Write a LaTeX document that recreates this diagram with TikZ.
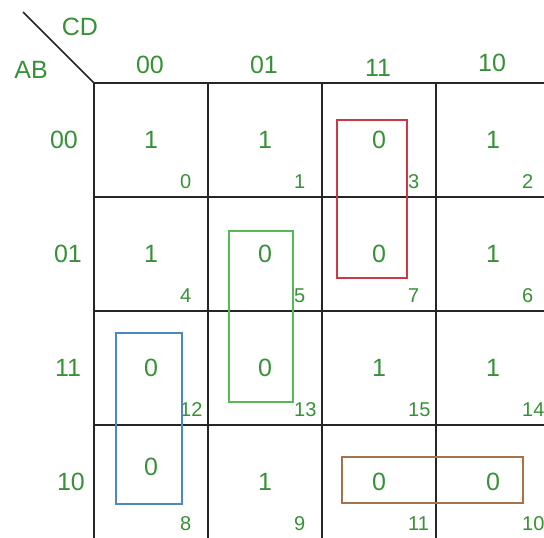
\documentclass[tikz,border=0pt]{standalone}
\usepackage{fontspec}
\setmainfont{Liberation Sans}
\usepackage{tikz}
\usetikzlibrary{positioning}
\definecolor{kgreen}{RGB}{55,145,55}
\definecolor{kred}{RGB}{205,55,70}
\definecolor{kgrp}{RGB}{85,185,85}
\definecolor{kblue}{RGB}{75,135,195}
\definecolor{kbrown}{RGB}{165,115,75}

\begin{document}
\begin{tikzpicture}[x=1pt, y=-1pt,
  gridline/.style={line width=2pt, black!85},
  val/.style={font=\fontsize{25}{29}\selectfont, text=kgreen, inner sep=0pt},
  idx/.style={font=\fontsize{20}{23}\selectfont, text=kgreen, inner sep=0pt, anchor=west},
  grp/.style={line width=1.6pt}]
  \useasboundingbox (0,0) rectangle (544,538);
  \clip (0,0) rectangle (544,538);
  \fill[white] (0,0) rectangle (544,538);

  % K-map grid (4 x 4, cut at right and bottom)
  \foreach \k in {0,...,4} {
    \draw[gridline] (94+114*\k, 83) -- (94+114*\k, 545);
    \draw[gridline] (94, 83+114*\k) -- (555, 83+114*\k);
  }

  % corner with variable names
  \coordinate (corner) at (94,83);
  \coordinate (diagtop) at (23,12);
  \draw[gridline, line width=1.6pt] (diagtop) -- (corner);
  \node[val] (cd) at (80,27) {CD};
  \node[val] (ab) at (31,70) {AB};

  % column headers (CD) and row headers (AB)
  \foreach \c/\lbl/\y in {0/00/65, 1/01/65, 2/11/68, 3/10/63} {
    \node[val] (col\lbl) at (150+114*\c, \y) {\lbl};
  }
  \foreach \r/\lbl/\x in {0/00/64, 1/01/68, 2/11/68, 3/10/71} {
    \node[val] (row\lbl) at (\x, 140+114*\r) {\lbl};
  }

  % cell values and minterm numbers
  \foreach \r/\c/\v/\n/\dy in {0/0/1/0/0, 0/1/1/1/0, 0/2/0/3/0, 0/3/1/2/0,
                               1/0/1/4/0, 1/1/0/5/0, 1/2/0/7/0, 1/3/1/6/0,
                               2/0/0/12/0, 2/1/0/13/0, 2/2/1/15/0, 2/3/1/14/0,
                               3/0/0/8/-15, 3/1/1/9/0, 3/2/0/11/0, 3/3/0/10/0} {
    \node[val] (v\n) at (151+114*\c, 140+114*\r+\dy) {\v};
    \node[idx] (i\n) at (180+114*\c, 182+114*\r) {\n};
  }

  % groups of zeros
  \draw[grp, kred]   (337,120) rectangle (407,278);
  \draw[grp, kgrp]   (229,231) rectangle (293,402);
  \draw[grp, kblue]  (116,333) rectangle (182,504);
  \draw[grp, kbrown] (342,457) rectangle (523,503);
\end{tikzpicture}
\end{document}
